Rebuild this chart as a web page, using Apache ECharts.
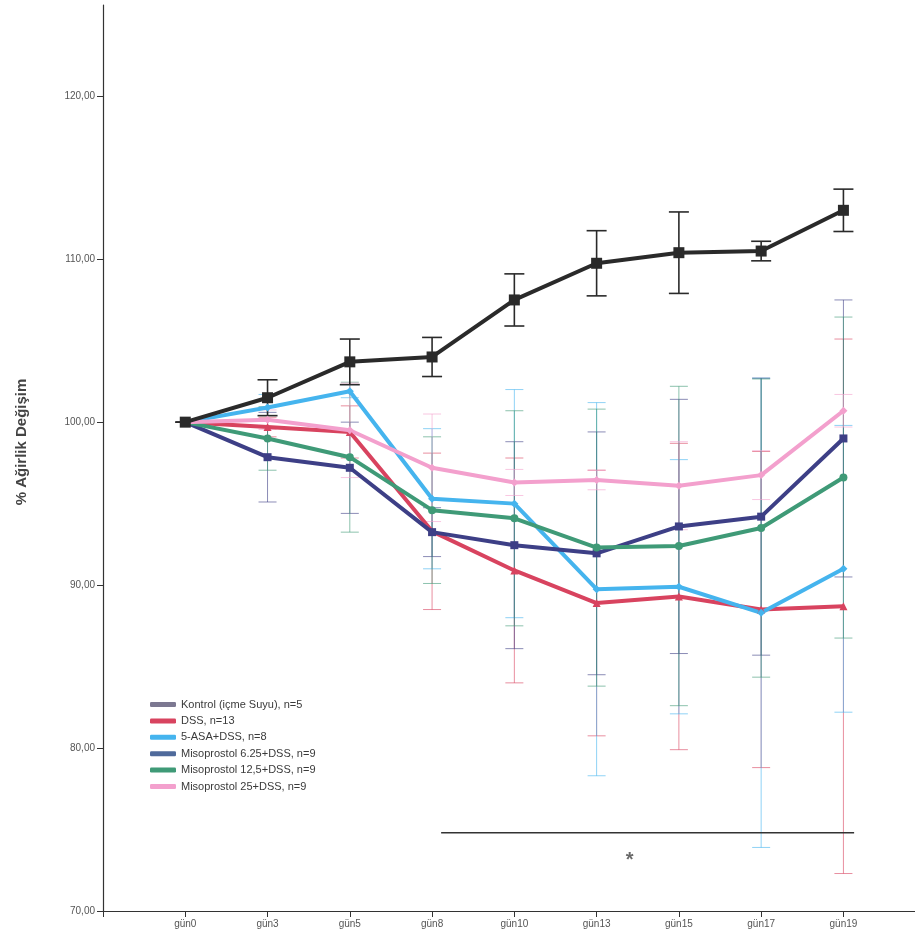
<!DOCTYPE html>
<html>
<head>
<meta charset="utf-8">
<script src="https://cdn.jsdelivr.net/npm/echarts@6.0.0/dist/echarts.min.js"></script>
<style>
  html, body { margin: 0; padding: 0; background: #fff; }
  #chart { width: 915px; height: 946px; }
</style>
</head>
<body>
<div id="chart"></div>
<script>
  const days = ['gün0', 'gün3', 'gün5', 'gün8', 'gün10', 'gün13', 'gün15', 'gün17', 'gün19'];
  const groupNames = [
    'Kontrol (içme Suyu), n=5',
    'DSS, n=13',
    '5-ASA+DSS, n=8',
    'Misoprostol 6.25+DSS, n=9',
    'Misoprostol 12,5+DSS, n=9',
    'Misoprostol 25+DSS, n=9'
  ];
  const yTitle = '% Ağirlik Değişim';

  // group means (% weight change)
  const kontrol = [100, 101.5, 103.7, 104.0, 107.5, 109.75, 110.4, 110.5, 113.0];
  const dss = [100, 99.7, 99.4, 93.3, 90.9, 88.9, 89.3, 88.5, 88.7];
  const asa = [100, 100.9, 101.9, 95.3, 95.0, 89.75, 89.9, 88.3, 91.0];
  const miso625 = [100, 97.85, 97.2, 93.25, 92.45, 91.95, 93.6, 94.2, 99.0];
  const miso125 = [100, 99.0, 97.85, 94.6, 94.1, 92.3, 92.4, 93.5, 96.6];
  const miso25 = [100, 100.15, 99.5, 97.2, 96.3, 96.45, 96.1, 96.75, 100.7];

  // error bar half widths
  const kontrolErr = [0, 1.1, 1.4, 1.2, 1.6, 2.0, 2.5, 0.6, 1.3];
  const dssErr = [0, 0.6, 1.6, 4.8, 6.9, 8.15, 9.4, 9.7, 16.4];
  const asaErr = [0, 0.8, 0.4, 4.3, 7.0, 11.45, 7.8, 14.4, 8.8];
  const miso625Err = [0, 2.75, 2.8, 1.5, 6.35, 7.45, 7.8, 8.5, 8.5];
  const miso125Err = [0, 1.95, 4.6, 4.5, 6.6, 8.5, 9.8, 9.15, 9.85];
  const miso25Err = [0, 0.6, 2.9, 3.3, 0.8, 0.6, 2.7, 1.5, 1.0];

  // significance bar (x in day index, y in %)
  const sigLineX = [3.11, 8.13];
  const sigLineY = 74.8;
  const sigMark = [5.4, 73.1];

  const lineColors = ['#2a2a2a', '#d8435f', '#45b4ee', '#3d3f86', '#3f9a77', '#f3a0cd'];
  const legendColors = ['#7c7891', '#d8435f', '#45b4ee', '#4f6a9b', '#3f9a77', '#f3a0cd'];
  const symbols = ['rect', 'triangle', 'diamond', 'rect', 'circle', 'diamond'];

  const means = [kontrol, dss, asa, miso625, miso125, miso25];
  const errs = [kontrolErr, dssErr, asaErr, miso625Err, miso125Err, miso25Err];

  const chart = echarts.init(document.getElementById('chart'));

  const errorSeries = means.map((vals, g) => ({
    type: 'custom',
    name: groupNames[g] + ' err',
    z: g === 0 ? 4 : 2,
    silent: true,
    data: vals.map((v, i) => [i, v - errs[g][i], v + errs[g][i]]),
    renderItem: (params, api) => {
      const x = api.value(0);
      const lo = api.coord([x, api.value(1)]);
      const hi = api.coord([x, api.value(2)]);
      const half = g === 0 ? 10 : 9;
      const style = {
        stroke: lineColors[g],
        lineWidth: g === 0 ? 1.6 : 1,
        opacity: g === 0 ? 1 : 0.6
      };
      return {
        type: 'group',
        children: [
          { type: 'line', shape: { x1: lo[0], y1: lo[1], x2: hi[0], y2: hi[1] }, style },
          { type: 'line', shape: { x1: hi[0] - half, y1: hi[1], x2: hi[0] + half, y2: hi[1] }, style },
          { type: 'line', shape: { x1: lo[0] - half, y1: lo[1], x2: lo[0] + half, y2: lo[1] }, style }
        ]
      };
    }
  }));

  const lineSeries = means.map((vals, g) => ({
    type: 'line',
    name: groupNames[g],
    z: g === 0 ? 6 : 5,
    data: vals.map((v, i) => [i, v]),
    symbol: symbols[g],
    symbolSize: g === 0 ? 11 : 8,
    showSymbol: true,
    lineStyle: { color: lineColors[g], width: 4 },
    itemStyle: { color: lineColors[g] },
    emphasis: { disabled: true }
  }));

  chart.setOption({
    animation: false,
    backgroundColor: '#fff',
    textStyle: { fontFamily: 'Liberation Sans, Arial, sans-serif' },
    grid: { left: 103, right: 0, top: 5, bottom: 35 },
    graphic: [
      {
        type: 'text',
        x: 22,
        y: 442,
        rotation: Math.PI / 2,
        style: {
          text: yTitle,
          font: 'bold 15px "Liberation Sans Narrow", "Liberation Sans", Arial, sans-serif',
          fill: '#444',
          align: 'center',
          verticalAlign: 'middle'
        }
      }
    ],
    legend: {
      orient: 'vertical',
      left: 145,
      top: 694,
      itemGap: 5.4,
      itemWidth: 26,
      itemHeight: 5,
      icon: 'roundRect',
      textStyle: { fontSize: 11, color: '#3a3a3a' },
      data: groupNames.map((n, g) => ({
        name: n,
        itemStyle: { color: legendColors[g] }
      }))
    },
    xAxis: {
      type: 'value',
      min: -1,
      max: 8.87,
      interval: 1,
      splitLine: { show: false },
      axisLine: { onZero: false, lineStyle: { color: '#333', width: 1.2 } },
      axisTick: { length: 6, lineStyle: { color: '#333' } },
      axisLabel: {
        color: '#555',
        fontSize: 10,
        margin: 8,
        showMaxLabel: false,
        formatter: (v) => days[v] || ''
      }
    },
    yAxis: {
      type: 'value',
      min: 70,
      max: 125.6,
      interval: 10,
      splitLine: { show: false },
      axisLine: { show: true, onZero: false, lineStyle: { color: '#333', width: 1.2 } },
      axisTick: { show: true, length: 6, lineStyle: { color: '#333' } },
      axisLabel: {
        color: '#555',
        fontSize: 10,
        margin: 8,
        showMaxLabel: false,
        formatter: (v) => v.toFixed(2).replace('.', ',')
      }
    },
    series: [
      ...errorSeries,
      ...lineSeries,
      {
        type: 'line',
        name: 'sig',
        data: sigLineX.map((x) => [x, sigLineY]),
        symbol: 'none',
        silent: true,
        lineStyle: { color: '#333', width: 1.5 },
        z: 3
      },
      {
        type: 'scatter',
        name: 'sigmark',
        data: [sigMark],
        symbolSize: 0,
        silent: true,
        label: {
          show: true,
          position: 'inside',
          formatter: '*',
          fontSize: 20,
          fontWeight: 'bold',
          color: '#444'
        }
      }
    ]
  });
</script>
</body>
</html>
